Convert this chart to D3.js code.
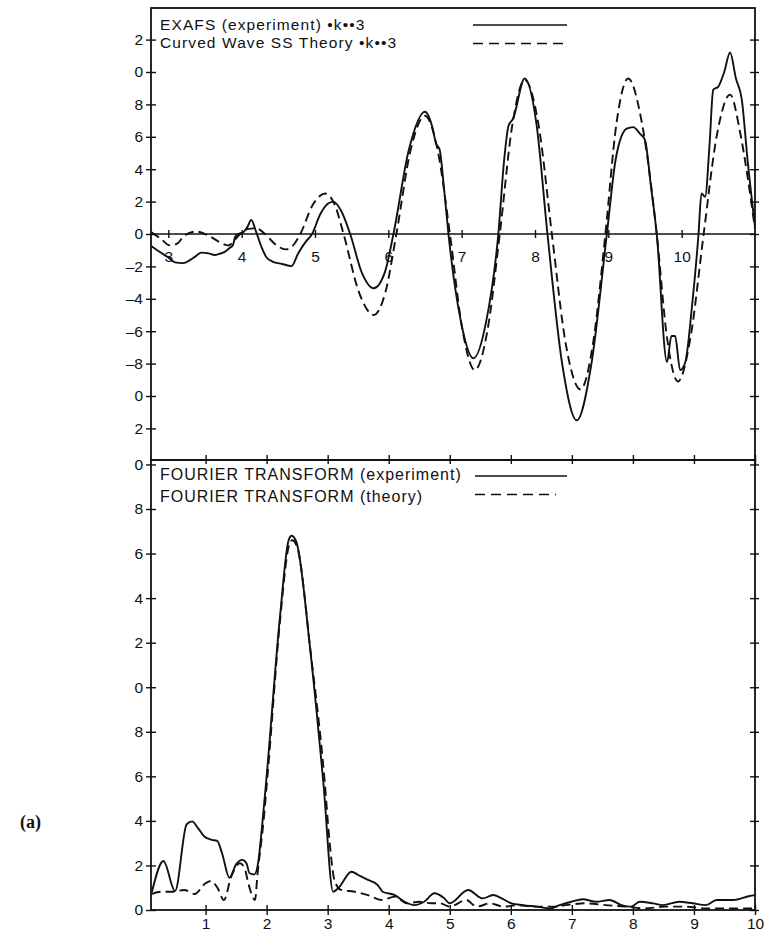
<!DOCTYPE html>
<html>
<head>
<meta charset="utf-8">
<script src="https://cdn.jsdelivr.net/npm/d3@7"></script>
<style>
  body { margin: 0; background: #fff; }
  svg { display: block; }
</style>
</head>
<body>
<svg id="fig" width="764" height="935"></svg>
<script>
// ---- EXAFS, k^3-weighted: [k, chi(k)*k^3] ----
const exafsExperiment = [
  [2.77,-0.75],[2.88,-1.1],[3.0,-1.45],[3.09,-1.75],[3.2,-1.8],[3.3,-1.6],[3.38,-1.35],
  [3.45,-1.15],[3.55,-1.2],[3.63,-1.3],[3.7,-1.22],[3.77,-1.1],[3.84,-0.85],[3.88,-0.7],
  [3.91,-0.2],[3.95,0.0],[4.02,0.1],[4.08,0.45],[4.13,0.86],[4.2,0.1],[4.27,-0.8],
  [4.34,-1.45],[4.42,-1.7],[4.55,-1.85],[4.68,-1.98],[4.77,-1.2],[4.87,-0.5],[4.96,0.0],
  [5.07,1.2],[5.17,1.85],[5.25,2.0],[5.36,1.4],[5.48,0.0],[5.64,-2.4],[5.8,-3.35],
  [5.95,-2.4],[6.07,0.0],[6.28,5.2],[6.5,7.55],[6.6,6.6],[6.65,5.6],[6.7,5.2],[6.76,2.8],
  [6.82,0.0],[6.99,-5.4],[7.16,-7.67],[7.33,-5.5],[7.5,0.0],[7.58,4.6],[7.64,6.7],
  [7.7,7.1],[7.86,9.6],[8.02,6.8],[8.17,0.0],[8.37,-8.0],[8.57,-11.5],[8.77,-8.0],
  [8.98,0.0],[9.1,4.6],[9.25,6.5],[9.34,6.6],[9.43,6.2],[9.5,5.8],[9.58,3.0],[9.66,0.0],
  [9.8,-7.9],[9.86,-6.3],[9.91,-6.3],[9.98,-8.4],[10.05,-7.9],[10.14,-4.5],[10.23,0.0],
  [10.27,2.5],[10.32,2.3],[10.38,5.5],[10.43,8.9],[10.5,9.1],[10.58,10.0],[10.66,11.2],
  [10.74,9.6],[10.82,8.3],[10.9,4.5],[11.0,0.45]
];
const exafsTheory = [
  [2.77,0.1],[2.9,-0.3],[3.02,-0.7],[3.12,-0.6],[3.22,-0.1],[3.38,0.15],[3.55,-0.1],
  [3.7,-0.5],[3.82,-0.7],[3.9,-0.4],[3.98,0.0],[4.08,0.3],[4.2,0.35],[4.32,0.0],
  [4.45,-0.6],[4.6,-0.95],[4.72,-0.6],[4.8,0.0],[4.97,1.8],[5.14,2.5],[5.27,1.8],
  [5.39,0.0],[5.6,-3.6],[5.8,-5.0],[5.96,-3.6],[6.11,0.0],[6.3,5.1],[6.5,7.3],[6.68,5.0],
  [6.84,0.0],[7.01,-5.9],[7.18,-8.4],[7.35,-6.0],[7.52,0.0],[7.69,6.7],[7.86,9.5],
  [8.05,6.7],[8.23,0.0],[8.42,-6.8],[8.62,-9.6],[8.79,-6.8],[8.96,0.0],[9.11,6.8],
  [9.27,9.6],[9.46,6.8],[9.66,0.0],[9.8,-6.4],[9.95,-9.1],[10.12,-6.4],[10.3,0.0],
  [10.48,6.1],[10.66,8.6],[10.8,6.2],[10.9,3.5],[11.0,0.3]
];

// ---- Fourier transform magnitude: [R, |F(R)|] ----
const ftExperiment = [
  [0.12,0.8],[0.31,2.2],[0.5,0.85],[0.69,3.85],[0.78,3.98],[0.87,3.7],[0.98,3.3],
  [1.1,3.15],[1.19,3.1],[1.27,2.55],[1.39,1.45],[1.5,2.05],[1.6,2.25],[1.67,2.1],
  [1.72,1.65],[1.8,1.6],[1.86,2.1],[1.92,3.6],[2.0,6.0],[2.22,13.2],[2.36,16.6],
  [2.41,16.8],[2.49,16.5],[2.71,11.8],[2.93,5.7],[3.09,0.82],[3.18,1.0],[3.39,1.72],
  [3.5,1.57],[3.66,1.35],[3.82,1.12],[3.9,0.82],[4.1,0.67],[4.26,0.37],[4.42,0.22],
  [4.58,0.37],[4.75,0.75],[4.9,0.55],[5.0,0.3],[5.3,0.9],[5.54,0.52],[5.71,0.67],
  [5.85,0.52],[6.01,0.3],[6.2,0.22],[6.42,0.15],[6.64,0.07],[6.8,0.22],[6.99,0.37],
  [7.18,0.48],[7.4,0.37],[7.62,0.45],[7.81,0.22],[7.97,0.15],[8.11,0.37],[8.33,0.3],
  [8.49,0.22],[8.76,0.37],[8.98,0.3],[9.2,0.22],[9.37,0.45],[9.64,0.45],[9.91,0.63],
  [10.0,0.67]
];
const ftTheory = [
  [0.12,0.72],[0.27,0.82],[0.46,0.82],[0.65,0.9],[0.82,0.72],[1.0,1.2],[1.09,1.3],
  [1.2,0.97],[1.3,0.45],[1.42,1.5],[1.56,2.1],[1.64,1.87],[1.7,1.2],[1.81,0.45],
  [1.85,1.6],[1.95,4.0],[2.02,6.2],[2.22,13.0],[2.37,16.4],[2.42,16.6],[2.5,16.3],
  [2.72,11.6],[2.95,5.8],[3.03,3.1],[3.11,1.35],[3.22,0.9],[3.44,0.82],[3.66,0.67],
  [3.88,0.45],[4.1,0.6],[4.3,0.3],[4.5,0.37],[4.7,0.3],[4.84,0.3],[5.0,0.15],
  [5.27,0.45],[5.44,0.15],[5.66,0.3],[5.88,0.15],[6.1,0.22],[6.37,0.15],[6.7,0.15],
  [6.9,0.22],[7.22,0.3],[7.55,0.22],[7.88,0.15],[8.2,0.07],[8.53,0.15],[8.86,0.15],
  [9.2,0.07],[9.53,0.07],[9.97,0.07]
];

// ---- ticks and labels ----
const kTicks = [3, 4, 5, 6, 7, 8, 9, 10];
const chiTicks = [-12, -10, -8, -6, -4, -2, 0, 2, 4, 6, 8, 10, 12];
const chiTickLabels = ["2", "0", "\u20138", "\u20136", "\u20134", "\u20132", "0", "2", "4", "6", "8", "0", "2"];
const rTicks = [1, 2, 3, 4, 5, 6, 7, 8, 9, 10];
const ftTicks = [0, 2, 4, 6, 8, 10, 12, 14, 16, 18, 20];
const ftTickLabels = ["0", "2", "4", "6", "8", "0", "2", "4", "6", "8", "0"];
const legendTop = ["EXAFS (experiment) \u2022k\u2022\u20223", "Curved Wave SS Theory \u2022k\u2022\u20223"];
const legendBottom = ["FOURIER TRANSFORM (experiment)", "FOURIER TRANSFORM (theory)"];
const panelTag = "(a)";

// ---- layout ----
const L = 151, R = 755, T = 8, M = 460, B = 910;
const FONT = "'Liberation Sans', Arial, Helvetica, sans-serif";
const INK = "#111";

const kx = d3.scaleLinear().domain([2.764, 11.0]).range([L, R]);
const chiY = d3.scaleLinear().domain([-13.95, 13.95]).range([M, T]);
const rx = d3.scaleLinear().domain([0.106, 10]).range([L, R]);
const ftY = d3.scaleLinear().domain([0, 20.2]).range([B, M]);

const svg = d3.select("#fig");

// draws one axis generator, strips its domain path and applies the figure style
function addAxis(axis, tx, ty, withLabels) {
  const g = svg.append("g")
    .attr("transform", `translate(${tx},${ty})`)
    .call(axis);
  g.select(".domain").remove();
  g.selectAll(".tick line").attr("stroke", INK).attr("stroke-width", 1.4);
  g.attr("font-family", FONT).attr("font-size", 15.5);
  g.selectAll(".tick text").attr("fill", INK);
  if (!withLabels) g.selectAll(".tick text").remove();
  return g;
}

// ---- upper panel: EXAFS ----
// y ticks crossing the left border, labelled; inward/outward ticks on the right border
addAxis(d3.axisLeft(chiY).tickValues(chiTicks).tickFormat((d, i) => chiTickLabels[i]).tickSize(5).tickPadding(3), L, 0, true);
addAxis(d3.axisRight(chiY).tickValues(chiTicks).tickSize(5), L, 0, false);
addAxis(d3.axisLeft(chiY).tickValues(chiTicks).tickSize(5), R, 0, false);
addAxis(d3.axisRight(chiY).tickValues(chiTicks).tickSize(4), R, 0, false);

// k axis lies on the zero line
svg.append("line")
  .attr("x1", L).attr("x2", R)
  .attr("y1", chiY(0)).attr("y2", chiY(0))
  .attr("stroke", INK).attr("stroke-width", 1.7);
addAxis(d3.axisBottom(kx).tickValues(kTicks).tickSize(4).tickPadding(13), 0, chiY(0), true);
addAxis(d3.axisTop(kx).tickValues(kTicks).tickSize(4), 0, chiY(0), false);

// ---- lower panel: Fourier transform ----
addAxis(d3.axisLeft(ftY).tickValues(ftTicks).tickFormat((d, i) => ftTickLabels[i]).tickSize(5).tickPadding(3), L, 0, true);
addAxis(d3.axisRight(ftY).tickValues(ftTicks).tickSize(5), L, 0, false);
addAxis(d3.axisLeft(ftY).tickValues(ftTicks).tickSize(5), R, 0, false);
addAxis(d3.axisRight(ftY).tickValues(ftTicks).tickSize(4), R, 0, false);

addAxis(d3.axisBottom(rx).tickValues(rTicks).tickSize(5).tickPadding(3), 0, B, true);
addAxis(d3.axisTop(rx).tickValues(rTicks).tickSize(5), 0, B, false);
addAxis(d3.axisBottom(rx).tickValues(rTicks).tickSize(4), 0, M, false);
addAxis(d3.axisTop(rx).tickValues(rTicks).tickSize(5), 0, M, false);

// ---- frames ----
[[T, M], [M, B]].forEach(([y0, y1]) => {
  svg.append("rect")
    .attr("x", L).attr("y", y0)
    .attr("width", R - L).attr("height", y1 - y0)
    .attr("fill", "none").attr("stroke", INK).attr("stroke-width", 1.8);
});

// ---- curves ----
svg.append("clipPath").attr("id", "clipTop")
  .append("rect").attr("x", L).attr("y", T).attr("width", R - L).attr("height", M - T);
svg.append("clipPath").attr("id", "clipBot")
  .append("rect").attr("x", L).attr("y", M).attr("width", R - L).attr("height", B - M);

const exafsLine = d3.line()
  .x(d => kx(d[0])).y(d => chiY(d[1]))
  .curve(d3.curveMonotoneX);
const ftLine = d3.line()
  .x(d => rx(d[0])).y(d => ftY(d[1]))
  .curve(d3.curveMonotoneX);

function drawCurve(data, gen, clip, dashed) {
  svg.append("path")
    .datum(data)
    .attr("d", gen)
    .attr("clip-path", `url(#${clip})`)
    .attr("fill", "none")
    .attr("stroke", INK)
    .attr("stroke-width", 1.9)
    .attr("stroke-linejoin", "round")
    .attr("stroke-dasharray", dashed ? "9,5" : null);
}
drawCurve(exafsTheory, exafsLine, "clipTop", true);
drawCurve(exafsExperiment, exafsLine, "clipTop", false);
drawCurve(ftTheory, ftLine, "clipBot", true);
drawCurve(ftExperiment, ftLine, "clipBot", false);

// ---- legends ----
function legend(labels, baselines, lineYs, x0, x1s, size, spacing) {
  labels.forEach((txt, i) => {
    svg.append("text")
      .attr("x", 160).attr("y", baselines[i])
      .attr("font-family", FONT).attr("font-size", size)
      .attr("letter-spacing", spacing)
      .attr("fill", INK)
      .text(txt);
    svg.append("line")
      .attr("x1", x0).attr("x2", x1s[i])
      .attr("y1", lineYs[i]).attr("y2", lineYs[i])
      .attr("stroke", INK).attr("stroke-width", 1.7)
      .attr("stroke-dasharray", i === 1 ? "10,6" : null);
  });
}
legend(legendTop, [30, 48], [25, 43.5], 473, [567, 565], 15.5, 1.1);
legend(legendBottom, [479.5, 501.5], [476, 494.5], 475, [567, 556], 16, 1.0);

// ---- panel tag ----
svg.append("text")
  .attr("x", 20).attr("y", 828)
  .attr("font-family", "'Liberation Serif', 'Times New Roman', serif")
  .attr("font-weight", "bold")
  .attr("font-size", 18)
  .attr("fill", INK)
  .text(panelTag);
</script>
</body>
</html>
